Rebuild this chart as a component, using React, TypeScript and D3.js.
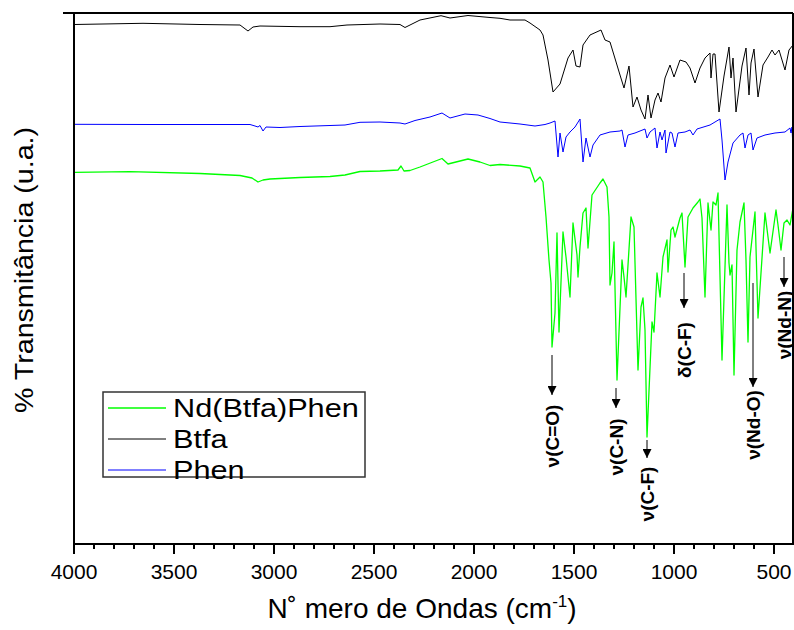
import React from "react";
import * as d3 from "d3";

// Wavenumber (cm-1), transmittance (arbitrary units, offset per curve)
const btfaSpectrum: [number, number][] = [
  [4000, 519.5], [3655, 520.7], [3370, 519.5], [3170, 519], [3130, 513], [3105, 517], [3070, 518],
  [2870, 517.3], [2720, 517.3], [2635, 519], [2470, 520], [2370, 519.5], [2345, 516.5], [2270, 524],
  [2165, 528.3], [2120, 526], [2030, 528.5], [1920, 526.5], [1870, 525.7], [1820, 524], [1745, 524],
  [1720, 521], [1670, 514], [1655, 509], [1630, 484], [1605, 452], [1570, 460], [1530, 486],
  [1505, 494], [1490, 478], [1470, 477], [1455, 499], [1420, 509], [1365, 514], [1345, 504],
  [1320, 502], [1270, 469], [1250, 456], [1225, 478], [1205, 437], [1185, 447], [1165, 434],
  [1145, 425], [1130, 449], [1115, 426], [1095, 444], [1080, 451], [1065, 442], [1045, 466],
  [1020, 479], [1000, 467], [970, 484], [940, 482], [920, 476], [895, 461], [870, 476], [845, 486],
  [820, 491], [815, 466], [805, 490], [795, 490], [775, 432], [750, 468], [725, 497], [715, 466],
  [705, 486], [690, 432], [660, 478], [640, 496], [625, 449], [615, 481], [600, 495], [580, 447],
  [555, 479], [530, 487], [510, 494], [495, 489], [475, 494], [445, 474], [425, 494], [405, 499],
];

const phenSpectrum: [number, number][] = [
  [4000, 419.7], [3620, 419.5], [3120, 419.5], [3095, 418], [3080, 417], [3070, 418.5], [3055, 413],
  [3040, 417], [2970, 416.5], [2870, 417.5], [2720, 418.5], [2645, 419], [2570, 421.7], [2470, 422],
  [2370, 421], [2345, 420], [2295, 423.5], [2220, 427], [2160, 431], [2120, 426], [2045, 430],
  [1980, 429], [1920, 425.5], [1870, 422], [1770, 420], [1695, 418], [1645, 419.5], [1620, 421],
  [1595, 423], [1580, 387], [1570, 411], [1555, 392], [1540, 407], [1520, 412], [1495, 417],
  [1470, 425], [1455, 382], [1440, 406], [1420, 387], [1405, 399], [1370, 409], [1320, 412],
  [1270, 413], [1260, 414], [1245, 397], [1230, 409], [1195, 411], [1145, 415], [1135, 406],
  [1120, 412], [1095, 416], [1085, 396], [1070, 412], [1060, 404], [1045, 414], [1040, 391],
  [1020, 412], [1010, 411], [995, 397], [980, 411], [945, 412], [920, 414], [905, 409], [885, 415],
  [820, 419], [770, 425], [760, 404], [745, 364], [730, 382], [705, 401], [670, 409], [655, 411],
  [645, 396], [630, 409], [615, 411], [605, 394], [585, 406], [545, 409], [495, 411], [445, 412],
  [420, 416], [415, 411], [410, 417], [405, 394],
];

const complexSpectrum: [number, number][] = [
  [4000, 371.7], [3720, 372.3], [3370, 370.5], [3170, 368.5], [3110, 366], [3080, 362], [3055, 364],
  [3020, 365], [2870, 366.5], [2720, 367.5], [2645, 369], [2570, 372.5], [2470, 373], [2380, 374],
  [2365, 378], [2350, 373], [2320, 373.5], [2270, 377], [2160, 385.5], [2130, 380], [2030, 385],
  [1970, 382], [1920, 378.5], [1870, 379.5], [1770, 378], [1720, 376], [1695, 362], [1670, 367],
  [1655, 362], [1640, 327], [1625, 284], [1615, 261], [1610, 197], [1595, 231], [1585, 311],
  [1575, 212], [1555, 312], [1540, 287], [1530, 267], [1520, 247], [1505, 321], [1485, 289],
  [1480, 267], [1470, 297], [1455, 331], [1440, 336], [1430, 296], [1410, 349], [1370, 361],
  [1355, 365], [1335, 357], [1325, 327], [1320, 259], [1310, 271], [1300, 302], [1285, 164],
  [1260, 284], [1250, 267], [1240, 247], [1215, 327], [1200, 317], [1180, 174], [1165, 237],
  [1155, 246], [1145, 214], [1135, 107], [1110, 222], [1100, 212], [1085, 271], [1070, 247],
  [1055, 287], [1035, 304], [1030, 272], [1015, 314], [1005, 317], [995, 307], [970, 326],
  [960, 331], [945, 277], [930, 327], [905, 336], [880, 342], [870, 345], [860, 326], [845, 247],
  [830, 341], [815, 314], [805, 342], [790, 339], [780, 351], [760, 184], [735, 339], [725, 281],
  [720, 269], [710, 279], [700, 169], [685, 294], [670, 322], [650, 341], [640, 284], [630, 202],
  [620, 287], [595, 332], [580, 226], [545, 331], [520, 291], [490, 334], [480, 319], [465, 294],
  [450, 321], [435, 324], [420, 319], [405, 336],
];

const seriesNames = ["Nd(Btfa)Phen", "Btfa", "Phen"];
const seriesColors = ["#00ff00", "#000000", "#0000ff"];

const xTicks = [4000, 3500, 3000, 2500, 2000, 1500, 1000, 500];
const xMinorTicks = d3.range(4000, 400, -100);

// Band assignments: label, wavenumber, arrow start value, arrow end value, label centre value
const bandLabels = ["ν(C=O)", "ν(C-N)", "ν(C-F)", "δ(C-F)", "ν(Nd-O)", "ν(Nd-N)"];
const bandWavenumbers = [1610, 1290, 1135, 950, 605, 450];
const bandArrowFrom = [189, 156, 104, 271, 261, 287];
const bandArrowTo = [149, 136, 86, 236, 157, 257];
const bandLabelAt = [108, 97, 50, 194, 119, 219];

export default function App() {
  const W = 794;
  const H = 630;
  const left = 74;
  const right = 793;
  const top = 13;
  const bottom = 544;

  const x = d3.scaleLinear().domain([4000, 405]).range([left, right]);
  const y = d3.scaleLinear().domain([0, 531]).range([bottom, top]);
  const line = d3
    .line<[number, number]>()
    .x((d) => x(d[0]))
    .y((d) => y(d[1]));

  const spectra = [complexSpectrum, btfaSpectrum, phenSpectrum];
  const widths = [1.3, 1, 1];
  const font = "Arial, 'Liberation Sans', Helvetica, sans-serif";

  return (
    <svg
      width={W}
      height={H}
      viewBox={`0 0 ${W} ${H}`}
      style={{ position: "absolute", left: 0, top: 0, background: "#fff" }}
      fontFamily={font}
    >
      <defs>
        <marker id="ah" viewBox="0 0 10 10" refX="10" refY="5" markerWidth="9" markerHeight="9" markerUnits="userSpaceOnUse" orient="auto">
          <path d="M0,0 L10,5 L0,10 z" fill="#000" />
        </marker>
      </defs>
      <rect x={0} y={0} width={W} height={H} fill="#fff" />

      {[1, 2, 0].map((i) => (
        <path
          key={seriesNames[i]}
          d={line(spectra[i]) || ""}
          fill="none"
          stroke={seriesColors[i]}
          strokeWidth={widths[i]}
          strokeLinejoin="round"
        />
      ))}

      {/* frame */}
      <line x1={63} x2={right} y1={top} y2={top} stroke="#000" strokeWidth={2} />
      <line x1={left} x2={left} y1={top} y2={bottom} stroke="#000" strokeWidth={2} />
      <line x1={right} x2={right} y1={top} y2={bottom} stroke="#000" strokeWidth={2} />
      <line x1={left - 1} x2={right + 1} y1={bottom} y2={bottom} stroke="#000" strokeWidth={2} />

      {/* x ticks */}
      {xMinorTicks.map((t) => (
        <line key={"m" + t} x1={x(t)} x2={x(t)} y1={bottom} y2={bottom + (t % 500 === 0 ? 10 : 5)} stroke="#000" strokeWidth={2} />
      ))}
      {xTicks.map((t) => (
        <text key={"t" + t} x={x(t)} y={579} fontSize={21} textAnchor="middle" fill="#000">
          {t}
        </text>
      ))}

      {/* axis titles */}
      <text x={422} y={618} fontSize={28} textAnchor="middle" fill="#000">
        <tspan>N˚ mero de Ondas (cm</tspan>
        <tspan dy={-11} fontSize={17}>-1</tspan>
        <tspan dy={11}>)</tspan>
      </text>
      <text
        transform={`translate(33, 270) rotate(-90) scale(1.1, 1)`}
        fontSize={26}
        textAnchor="middle"
        fill="#000"
      >
        % Transmitância (u.a.)
      </text>

      {/* band annotations */}
      {bandLabels.map((lab, i) => {
        const bx = x(bandWavenumbers[i]);
        return (
          <g key={lab + i}>
            <line
              x1={bx}
              x2={bx}
              y1={y(bandArrowFrom[i])}
              y2={y(bandArrowTo[i])}
              stroke="#000"
              strokeWidth={1}
              markerEnd="url(#ah)"
            />
            <text
              transform={`translate(${bx + 7}, ${y(bandLabelAt[i])}) rotate(-90)`}
              fontSize={19}
              fontWeight="bold"
              textAnchor="middle"
              fill="#000"
            >
              {lab}
            </text>
          </g>
        );
      })}

      {/* legend */}
      <rect x={103} y={392} width={262} height={85} fill="#fff" stroke="#333" strokeWidth={1.5} />
      {seriesNames.map((n, i) => (
        <g key={"lg" + n}>
          <line x1={108} x2={166} y1={408 + i * 31} y2={408 + i * 31} stroke={seriesColors[i]} strokeWidth={widths[i]} />
          <text transform={`translate(173, ${417 + i * 31}) scale(1.18, 1)`} fontSize={26} fill="#000">
            {n}
          </text>
        </g>
      ))}
    </svg>
  );
}
